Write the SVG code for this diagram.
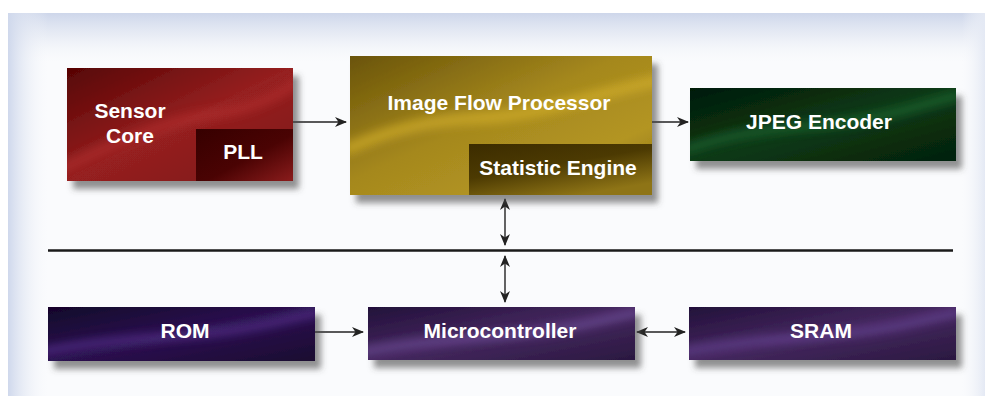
<svg xmlns="http://www.w3.org/2000/svg" width="985" height="396" viewBox="0 0 985 396">
<defs>
<style>
.lbl{font-family:"Liberation Sans",Arial,sans-serif;font-weight:bold;font-size:21px;fill:#ffffff;text-anchor:middle}
.con{stroke:#222;stroke-width:1.4;fill:none}
.bus{stroke:#1a1a1a;stroke-width:2.6;fill:none}
.wave{fill:none;filter:url(#bl)}
</style>
<filter id="sh" x="-10%" y="-20%" width="130%" height="160%">
<feDropShadow dx="6" dy="8" stdDeviation="3" flood-color="#484848" flood-opacity="0.6"/>
</filter>
<filter id="bl" x="-20%" y="-50%" width="140%" height="200%"><feGaussianBlur stdDeviation="5"/></filter>
<marker id="ah" viewBox="0 0 12 10" refX="11" refY="5" markerWidth="12" markerHeight="10" markerUnits="userSpaceOnUse" orient="auto-start-reverse">
<path d="M0,0 L12,5 L0,10 L3.5,5 Z" fill="#222"/>
</marker>
<linearGradient id="pTop" x1="0" y1="0" x2="0" y2="1">
<stop offset="0" stop-color="#cdd6ea" stop-opacity="1"/><stop offset="0.45" stop-color="#dde3f0" stop-opacity="0.6"/><stop offset="1" stop-color="#f4f6fa" stop-opacity="0"/>
</linearGradient>
<linearGradient id="pLeft" x1="0" y1="0" x2="1" y2="0">
<stop offset="0" stop-color="#cfd8ec" stop-opacity="1"/><stop offset="0.4" stop-color="#dfe5f2" stop-opacity="0.6"/><stop offset="1" stop-color="#f4f6fa" stop-opacity="0"/>
</linearGradient>
<linearGradient id="pRight" x1="1" y1="0" x2="0" y2="0">
<stop offset="0" stop-color="#e4e9f4" stop-opacity="1"/><stop offset="1" stop-color="#f4f6fa" stop-opacity="0"/>
</linearGradient>
<linearGradient id="gRed" x1="0" y1="0" x2="1" y2="1">
<stop offset="0" stop-color="#560404"/><stop offset="0.5" stop-color="#962020"/><stop offset="1" stop-color="#7c1a1a"/>
</linearGradient>
<linearGradient id="gPll" x1="0" y1="0" x2="1" y2="1">
<stop offset="0" stop-color="#360000"/><stop offset="0.55" stop-color="#4a0303"/><stop offset="1" stop-color="#8a1c1c"/>
</linearGradient>
<linearGradient id="gGold" x1="0" y1="0" x2="1" y2="1">
<stop offset="0" stop-color="#6a5408"/><stop offset="0.45" stop-color="#a5881e"/><stop offset="0.75" stop-color="#b39522"/><stop offset="1" stop-color="#8a7014"/>
</linearGradient>
<linearGradient id="gStat" x1="0" y1="0" x2="0.6" y2="1">
<stop offset="0" stop-color="#3c2c00"/><stop offset="0.5" stop-color="#4c3a02"/><stop offset="1" stop-color="#8e7416"/>
</linearGradient>
<linearGradient id="gGreen" x1="0" y1="0" x2="1" y2="1">
<stop offset="0" stop-color="#021a06"/><stop offset="0.5" stop-color="#0c3a16"/><stop offset="1" stop-color="#042008"/>
</linearGradient>
<linearGradient id="gPurp" x1="0" y1="0" x2="1" y2="1">
<stop offset="0" stop-color="#12052a"/><stop offset="0.5" stop-color="#2c1250"/><stop offset="1" stop-color="#1a0a30"/>
</linearGradient>
<linearGradient id="gPurp2" x1="0" y1="0" x2="1" y2="1">
<stop offset="0" stop-color="#22103a"/><stop offset="0.5" stop-color="#45285f"/><stop offset="1" stop-color="#2a1840"/>
</linearGradient>
<clipPath id="cSensor"><rect x="67" y="68" width="226" height="113"/></clipPath>
<clipPath id="cIfp"><rect x="350" y="56" width="302" height="139"/></clipPath>
<clipPath id="cJpeg"><rect x="690" y="88" width="266" height="73"/></clipPath>
<clipPath id="cRom"><rect x="48" y="307" width="267" height="54"/></clipPath>
<clipPath id="cMicro"><rect x="368" y="307" width="267" height="53"/></clipPath>
<clipPath id="cSram"><rect x="689" y="307" width="267" height="53"/></clipPath>
</defs>

<g id="background">
<rect x="8" y="13" width="977" height="383" fill="#fafbfd"/>
<rect x="8" y="13" width="977" height="50" fill="url(#pTop)"/>
<rect x="8" y="13" width="40" height="383" fill="url(#pLeft)"/>
<rect x="962" y="13" width="23" height="383" fill="url(#pRight)"/>
</g>

<g id="connectors">
<line class="bus" x1="48" y1="250.5" x2="953" y2="250.5"/>
<line class="con" x1="293" y1="122" x2="346" y2="122" marker-end="url(#ah)"/>
<line class="con" x1="652" y1="122" x2="688" y2="122" marker-end="url(#ah)"/>
<line class="con" x1="505" y1="199" x2="505" y2="245" marker-start="url(#ah)" marker-end="url(#ah)"/>
<line class="con" x1="505" y1="256" x2="505" y2="302" marker-start="url(#ah)" marker-end="url(#ah)"/>
<line class="con" x1="315" y1="332" x2="363" y2="332" marker-end="url(#ah)"/>
<line class="con" x1="637" y1="332" x2="685" y2="332" marker-start="url(#ah)" marker-end="url(#ah)"/>
</g>

<g id="sensor-core">
<rect x="67" y="68" width="226" height="113" fill="url(#gRed)" filter="url(#sh)"/>
<g clip-path="url(#cSensor)">
<path class="wave" d="M60,170 C120,140 170,120 210,115 C250,110 280,95 300,80" stroke="#b02e2e" stroke-width="10" opacity="0.7"/>
</g>
<text class="lbl" x="130" y="118">Sensor</text>
<text class="lbl" x="130" y="143">Core</text>
</g>

<g id="pll">
<rect x="196" y="129" width="97" height="52" fill="url(#gPll)"/>
<text class="lbl" x="243" y="159">PLL</text>
</g>

<g id="image-flow-processor">
<rect x="350" y="56" width="302" height="139" fill="url(#gGold)" filter="url(#sh)"/>
<g clip-path="url(#cIfp)">
<path class="wave" d="M345,150 C400,125 440,120 480,118 C540,116 590,95 660,80" stroke="#d2ae2a" stroke-width="12" opacity="0.7"/>
</g>
<text class="lbl" x="499" y="110">Image Flow Processor</text>
</g>

<g id="statistic-engine">
<rect x="469" y="144" width="183" height="51" fill="url(#gStat)"/>
<text class="lbl" x="558" y="175">Statistic Engine</text>
</g>

<g id="jpeg-encoder">
<rect x="690" y="88" width="266" height="73" fill="url(#gGreen)" filter="url(#sh)"/>
<g clip-path="url(#cJpeg)">
<path class="wave" d="M685,150 C740,130 790,128 830,124 C880,120 920,105 960,95" stroke="#1f6a32" stroke-width="8" opacity="0.8"/>
</g>
<text class="lbl" x="819" y="129">JPEG Encoder</text>
</g>

<g id="rom">
<rect x="48" y="307" width="267" height="54" fill="url(#gPurp)" filter="url(#sh)"/>
<g clip-path="url(#cRom)">
<path class="wave" d="M40,352 C100,340 160,338 200,334 C250,330 290,318 320,312" stroke="#5a3592" stroke-width="7" opacity="0.8"/>
</g>
<text class="lbl" x="185" y="338">ROM</text>
</g>

<g id="microcontroller">
<rect x="368" y="307" width="267" height="53" fill="url(#gPurp2)" filter="url(#sh)"/>
<g clip-path="url(#cMicro)">
<path class="wave" d="M360,352 C420,340 480,338 520,334 C570,330 610,318 640,312" stroke="#7552a0" stroke-width="7" opacity="0.8"/>
</g>
<text class="lbl" x="500" y="338">Microcontroller</text>
</g>

<g id="sram">
<rect x="689" y="307" width="267" height="53" fill="url(#gPurp2)" filter="url(#sh)"/>
<g clip-path="url(#cSram)">
<path class="wave" d="M681,352 C741,340 801,338 841,334 C891,330 931,318 961,312" stroke="#6a469a" stroke-width="7" opacity="0.8"/>
</g>
<text class="lbl" x="821" y="338">SRAM</text>
</g>
</svg>
